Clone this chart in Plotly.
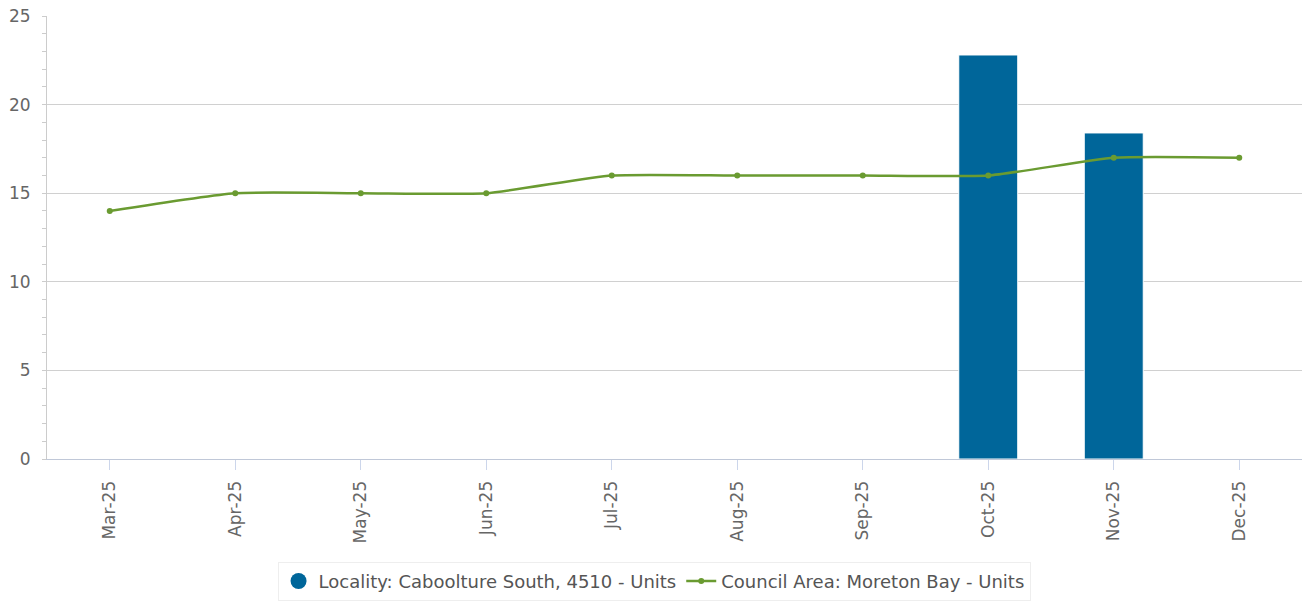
import plotly.graph_objects as go

months = ["Mar-25", "Apr-25", "May-25", "Jun-25", "Jul-25", "Aug-25",
          "Sep-25", "Oct-25", "Nov-25", "Dec-25"]
locality_units = [None, None, None, None, None, None, None, 22.8, 18.4, None]
council_units = [14, 15, 15, 15, 16, 16, 16, 16, 17, 17]

locality_name = "Locality: Caboolture South, 4510 - Units"
council_name = "Council Area: Moreton Bay - Units"

FONT = "DejaVu Sans, Verdana, sans-serif"
BLUE = "#00669a"
GREEN = "#6a9b31"

fig = go.Figure()
fig.add_trace(go.Bar(
    x=months, y=locality_units,
    name=locality_name, legendgroup="loc", showlegend=False,
    marker=dict(color=BLUE, line=dict(color="#ffffff", width=1)),
    width=0.47,
))
# legend entry for the bars (circle symbol, as in the reference)
fig.add_trace(go.Scatter(
    x=[months[0]], y=[None], mode="markers",
    name=locality_name, legendgroup="loc",
    marker=dict(color=BLUE, size=16, symbol="circle"),
))
fig.add_trace(go.Scatter(
    x=months, y=council_units,
    name=council_name,
    mode="lines+markers",
    line=dict(color=GREEN, width=2.5, shape="spline", smoothing=0.5),
    marker=dict(color=GREEN, size=6),
))

fig.update_layout(
    width=1306, height=607,
    margin=dict(l=47, r=4, t=16, b=148, autoexpand=False),
    plot_bgcolor="#ffffff", paper_bgcolor="#ffffff",
    font=dict(family=FONT, color="#666666", size=17),
    showlegend=True,
    legend=dict(
        orientation="h", x=0.4837, xanchor="center", y=-0.232, yanchor="top",
        bordercolor="#eeeeee", borderwidth=1, bgcolor="#ffffff",
        font=dict(family=FONT, size=18, color="#555555"),
        traceorder="normal",
    ),
)
fig.update_xaxes(
    type="category", range=[-0.5, 9.5], automargin=False,
    showgrid=False, showline=True, linecolor="#c0c8d8", linewidth=1,
    ticks="outside", ticklen=10, tickcolor="#ccd6eb", tickwidth=1,
    tickangle=-90, tickfont=dict(size=17, color="#666666"),
    ticklabelstandoff=4,
)
fig.update_yaxes(
    range=[0, 25], dtick=5, automargin=False,
    showgrid=True, gridcolor="#d0d0d0", gridwidth=1,
    showline=True, linecolor="#cccccc", linewidth=1,
    ticks="outside", ticklen=4, tickcolor="#cccccc",
    tickfont=dict(size=17, color="#666666"),
    ticklabelstandoff=8, ticklabeloverflow="allow",
    minor=dict(dtick=1, ticks="outside", ticklen=4, tickcolor="#cccccc", showgrid=False),
    zeroline=False,
)

# remove the default 8px page margin so the figure fills the window exactly
fig.write_html("out.html", config={"displayModeBar": False},
               post_script="document.body.style.margin='0';")
